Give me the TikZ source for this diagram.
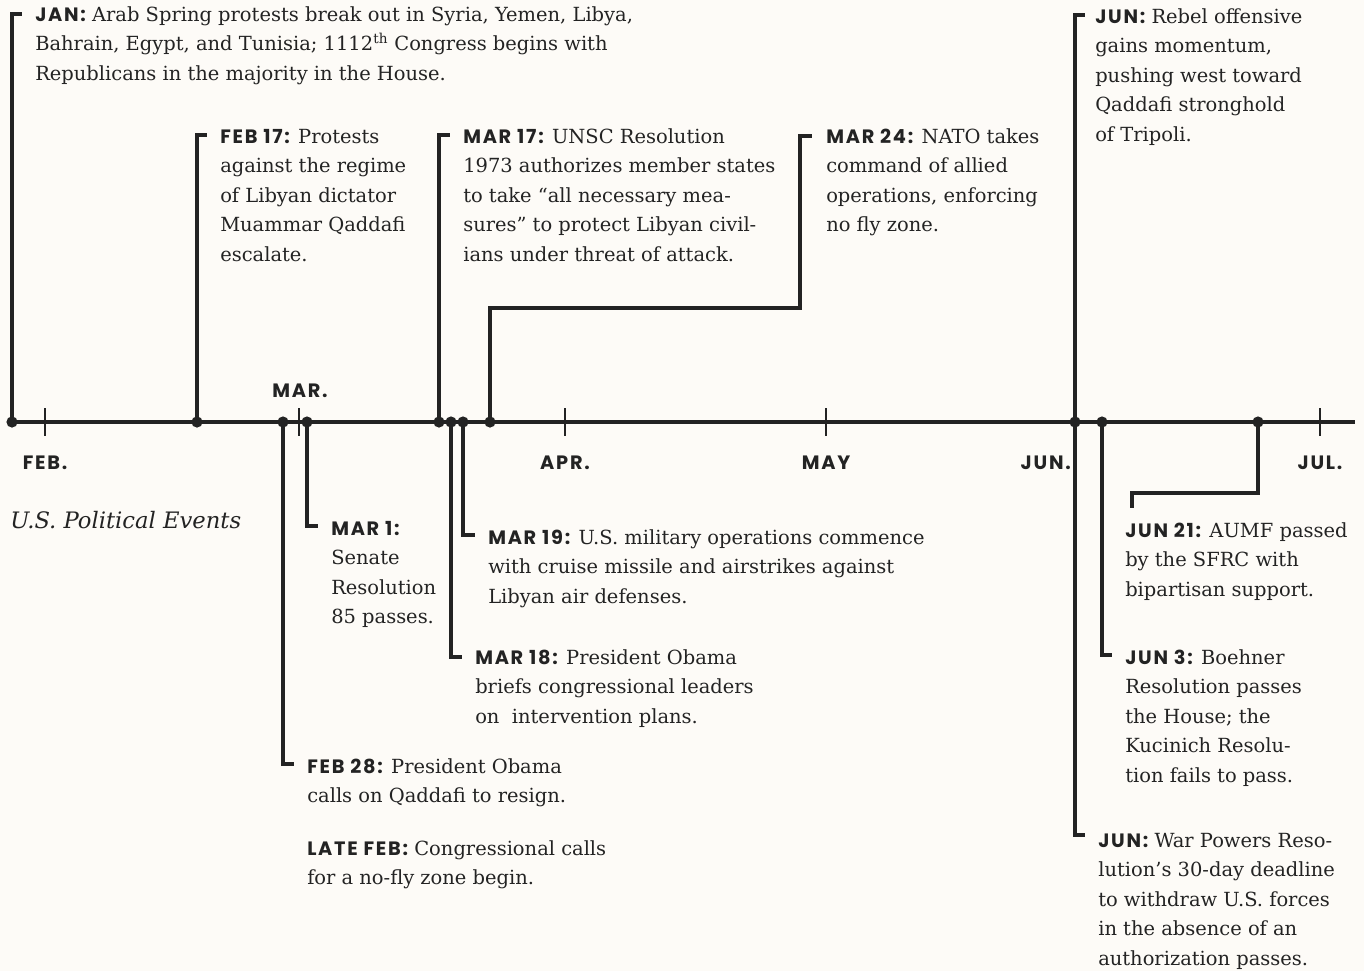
\documentclass[tikz,border=0pt]{standalone}
\usepackage{fontspec}
\setmainfont{DejaVu Serif}
\newfontfamily\labelfont[LetterSpace=9]{Poppins}
\usetikzlibrary{positioning,calc}

\definecolor{paper}{HTML}{FDFBF7}
\definecolor{ink}{HTML}{232323}

% date label; the strut fixes the height of the first line
\newcommand{\evdate}[1]{{\labelfont\bfseries\fontsize{14.5}{22.1}\selectfont\strut #1}}

\begin{document}
\begin{tikzpicture}[
  x=0.75pt, y=-0.75pt,
  axisline/.style={draw=ink, line width=2.4pt},
  evline/.style={draw=ink, line width=2.4pt},
  tickline/.style={draw=ink, line width=2pt},
  dot/.style={circle, fill=ink, inner sep=0pt, minimum size=8.4pt},
  event/.style={anchor=north west, yshift=15.47pt, align=left, inner sep=0pt,
    text=ink, font=\fontsize{14.6}{22.1}\selectfont},
  month/.style={inner sep=0pt, text=ink,
    font=\labelfont\bfseries\fontsize{14.5}{16}\selectfont},
]

\fill[paper] (0,0) rectangle (1364,971);
\useasboundingbox (0,0) rectangle (1364,971);

%-- axis and months --------------------------------------------------------

\draw[axisline] (7,422) -- (1355,422);

\foreach \x/\m in {45/FEB., 565/APR., 826/MAY, 1320/JUL.}{
  \draw[tickline] (\x,408) -- (\x,436);
  \node[month] at (\x,463) {\m};
}
\draw[tickline] (299,408) -- (299,436);
\node[month] (mMar) at (300,391) {MAR.};
\node[month, anchor=east] (mJun) at (1071,463) {JUN.};

\node[anchor=base west, inner sep=0pt, text=ink,
  font=\itshape\fontsize{17}{20}\selectfont] (title) at (10,528)
  {U.S. Political Events};

%-- event dots -------------------------------------------------------------

\node[dot] (jan)   at (12,422)   {};
\node[dot] (feb17) at (197,422)  {};
\node[dot] (feb28) at (283,422)  {};
\node[dot] (mar1)  at (307,422)  {};
\node[dot] (mar17) at (439,422)  {};
\node[dot] (mar18) at (451,422)  {};
\node[dot] (mar19) at (463,422)  {};
\node[dot] (mar24) at (490,422)  {};
\node[dot] (jun)   at (1075,422) {};
\node[dot] (jun3)  at (1102,422) {};
\node[dot] (jun21) at (1258,422) {};

%-- events above the axis (placed at the first baseline) -------------------

\node[event] (janT) at (35,21)
  {\evdate{JAN:} Arab Spring protests break out in Syria, Yemen, Libya,\\
   Bahrain, Egypt, and Tunisia; 1112\textsuperscript{th} Congress begins with\\
   Republicans in the majority in the House.};

\node[event] (feb17T) at (220,143)
  {\evdate{FEB 17:} Protests\\ against the regime\\ of Libyan dictator\\
   Muammar Qaddafi\\ escalate.};

\node[event] (mar17T) at (463,143)
  {\evdate{MAR 17:} UNSC Resolution\\ 1973 authorizes member states\\
   to take “all necessary mea-\\ sures” to protect Libyan civil-\\
   ians under threat of attack.};

\node[event] (mar24T) at (826,143)
  {\evdate{MAR 24:} NATO takes\\ command of allied\\
   operations, enforcing\\ no fly zone.};

\node[event] (junT) at (1095,23)
  {\evdate{JUN:} Rebel offensive\\ gains momentum,\\ pushing west toward\\
   Qaddafi stronghold\\ of Tripoli.};

%-- events below the axis --------------------------------------------------

\node[event] (mar1T) at (331,535)
  {\evdate{MAR 1:}\\ Senate\\ Resolution\\ 85 passes.};

\node[event] (mar19T) at (488,544)
  {\evdate{MAR 19:} U.S. military operations commence\\
   with cruise missile and airstrikes against\\ Libyan air defenses.};

\node[event] (mar18T) at (475,664)
  {\evdate{MAR 18:} President Obama\\ briefs congressional leaders\\
   on\ \ intervention plans.};

\node[event] (feb28T) at (307,773)
  {\evdate{FEB 28:} President Obama\\ calls on Qaddafi to resign.};
\node[event] (latefebT) at (307,855)
  {\evdate{LATE FEB:} Congressional calls\\ for a no-fly zone begin.};

\node[event] (jun21T) at (1125,537)
  {\evdate{JUN 21:} AUMF passed\\ by the SFRC with\\ bipartisan support.};

\node[event] (jun3T) at (1125,664)
  {\evdate{JUN 3:} Boehner\\ Resolution passes\\ the House; the\\
   Kucinich Resolu-\\ tion fails to pass.};

\node[event] (junwT) at (1098,847)
  {\evdate{JUN:} War Powers Reso-\\ lution’s 30-day deadline\\
   to withdraw U.S. forces\\ in the absence of an\\ authorization passes.};

%-- connectors (north west sits 20.6px above the first baseline) ----------

\coordinate (mar24K) at (800,308);
\coordinate (jun21K) at (1132,493);

\draw[evline] (jan.center)   |- ($(janT.north west)+(-13,13.6)$);
\draw[evline] (feb17.center) |- ($(feb17T.north west)+(-13,12.6)$);
\draw[evline] (mar17.center) |- ($(mar17T.north west)+(-13,12.6)$);
\draw[evline] (mar24.center) |- (mar24K) |- ($(mar24T.north west)+(-14,13.6)$);
\draw[evline] (jun.center)   |- ($(junT.north west)+(-10,12.6)$);

\draw[evline] (mar1.center)  |- ($(mar1T.north west)+(-13,11.6)$);
\draw[evline] (mar19.center) |- ($(mar19T.north west)+(-13,11.6)$);
\draw[evline] (mar18.center) |- ($(mar18T.north west)+(-13,13.6)$);
\draw[evline] (feb28.center) |- ($(feb28T.north west)+(-13,11.6)$);
\draw[evline] (jun21.center) |- (jun21K) -- ($(jun21T.north west)+(7,-8.4)$);
\draw[evline] (jun3.center)  |- ($(jun3T.north west)+(-13,11.6)$);
\draw[evline] (jun.center)   |- ($(junwT.north west)+(-13,8.6)$);

\end{tikzpicture}
\end{document}
